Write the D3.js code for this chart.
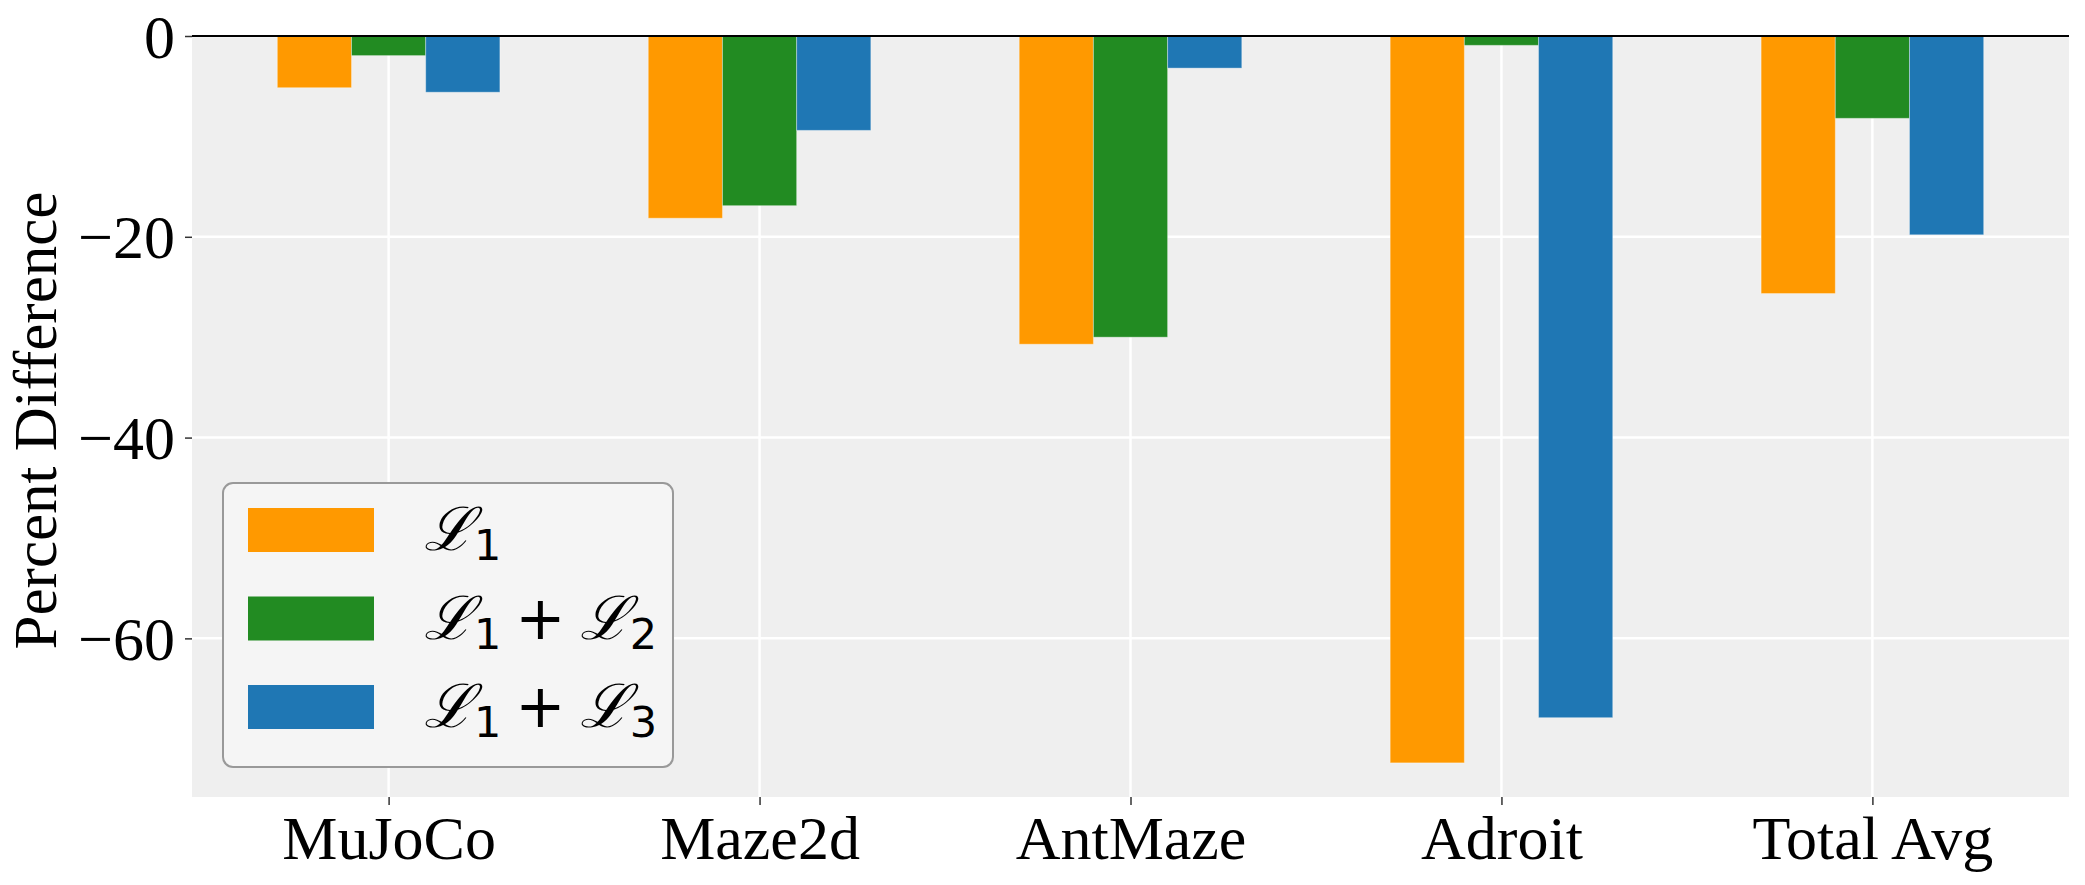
<!DOCTYPE html>
<html>
<head>
<meta charset="utf-8">
<script src="https://cdn.jsdelivr.net/npm/d3@7"></script>
<style>
html,body{margin:0;padding:0;background:#fff;}
svg{display:block;}
</style>
</head>
<body>
<svg id="chart" width="2085" height="885"></svg>
<script>
const categories = ["MuJoCo", "Maze2d", "AntMaze", "Adroit", "Total Avg"];
const seriesL1   = [-5.15, -18.15, -30.7, -72.4, -25.65];
const seriesL1L2 = [-1.95, -16.9, -30.0, -0.93, -8.2];
const seriesL1L3 = [-5.6, -9.4, -3.2, -67.9, -19.8];
const yTicks = [0, -20, -40, -60];
const seriesNames = [["1"], ["1", "2"], ["1", "3"]];
const seriesColors = ["#ff9900", "#228b22", "#1f77b4"];

(function () {
const series = [seriesL1, seriesL1L2, seriesL1L3];
const svg = d3.select("#chart");
const pL = 192, pR = 2069, pT = 36, pB = 797;
const serif = "'Liberation Serif','Times New Roman',Times,serif";

const x = d3.scaleLinear().domain([-0.53, 4.53]).range([pL, pR]);
const y = d3.scaleLinear().domain([-75.8, 0]).range([pB, pT]);
const barW = 0.2;

// background
svg.append("rect").attr("x", pL).attr("y", pT).attr("width", pR - pL).attr("height", pB - pT).attr("fill", "#efefef");

// grid
const g = svg.append("g");
g.selectAll("line.hg").data(yTicks).join("line")
  .attr("x1", pL).attr("x2", pR)
  .attr("y1", d => y(d)).attr("y2", d => y(d))
  .attr("stroke", "#fff").attr("stroke-width", 2.5);
g.selectAll("line.vg").data(categories).join("line")
  .attr("x1", (d, i) => x(i)).attr("x2", (d, i) => x(i))
  .attr("y1", pT).attr("y2", pB)
  .attr("stroke", "#fff").attr("stroke-width", 2.5);

// bars
series.forEach((vals, s) => {
  svg.append("g").selectAll("rect").data(vals).join("rect")
    .attr("x", (d, i) => x(i + (s - 1) * barW - barW / 2))
    .attr("width", x(barW) - x(0))
    .attr("y", y(0))
    .attr("height", d => y(d) - y(0))
    .attr("fill", seriesColors[s])
    .attr("stroke", "rgba(255,255,255,0.35)")
    .attr("stroke-width", 1);
});

// zero line
svg.append("line").attr("x1", pL).attr("x2", pR).attr("y1", y(0)).attr("y2", y(0))
  .attr("stroke", "#000").attr("stroke-width", 2);

// axes
const yAxis = d3.axisLeft(y).tickValues(yTicks).tickSize(7).tickPadding(10)
  .tickFormat(d => d < 0 ? "\u2212" + Math.abs(d) : String(d));
const ya = svg.append("g").attr("transform", `translate(${pL},0)`).call(yAxis);
ya.select(".domain").remove();
ya.selectAll(".tick line").attr("stroke", "#333").attr("stroke-width", 1.5);
ya.selectAll(".tick text").attr("font-family", serif).attr("font-size", 62).attr("fill", "#000").attr("dy", "0.34em");

const xAxis = d3.axisBottom(x).tickValues(d3.range(categories.length)).tickSize(8).tickPadding(10)
  .tickFormat(i => categories[i]);
const xa = svg.append("g").attr("transform", `translate(0,${pB})`).call(xAxis);
xa.select(".domain").remove();
xa.selectAll(".tick line").attr("stroke", "#333").attr("stroke-width", 1.5);
xa.selectAll(".tick text").attr("font-family", serif).attr("font-size", 62).attr("fill", "#000").attr("dy", "0.71em");

// y label
svg.append("text")
  .attr("transform", `translate(56,${(pT + pB) / 2 + 4}) rotate(-90)`)
  .attr("text-anchor", "middle")
  .attr("font-family", serif).attr("font-size", 61).attr("fill", "#000")
  .text("Percent Difference");

// legend
const lg = svg.append("g");
lg.append("rect").attr("x", 223).attr("y", 483).attr("width", 450).attr("height", 284)
  .attr("rx", 10).attr("ry", 10)
  .attr("fill", "#f5f5f5").attr("stroke", "#999").attr("stroke-width", 2);
const rowY = [530, 618.5, 707];
seriesNames.forEach((subs, i) => {
  lg.append("rect").attr("x", 248).attr("y", rowY[i] - 22).attr("width", 126).attr("height", 44)
    .attr("fill", seriesColors[i]);
  const t = lg.append("text").attr("x", 424).attr("y", rowY[i] + 20)
    .attr("font-family", "'DejaVu Sans',sans-serif").attr("font-size", 60).attr("fill", "#000");
  subs.forEach((sb, k) => {
    if (k > 0) {
      t.append("tspan").attr("dy", -10).attr("dx", 14).attr("font-size", 60).text("+");
    }
    const L = t.append("tspan").attr("font-family", "'DejaVu Serif',serif").attr("font-style", "italic").text("\u2112");
    if (k > 0) L.attr("dx", 14);
    t.append("tspan").attr("font-size", 43).attr("dy", 10).text(sb);
  });
});
})();
</script>
</body>
</html>
